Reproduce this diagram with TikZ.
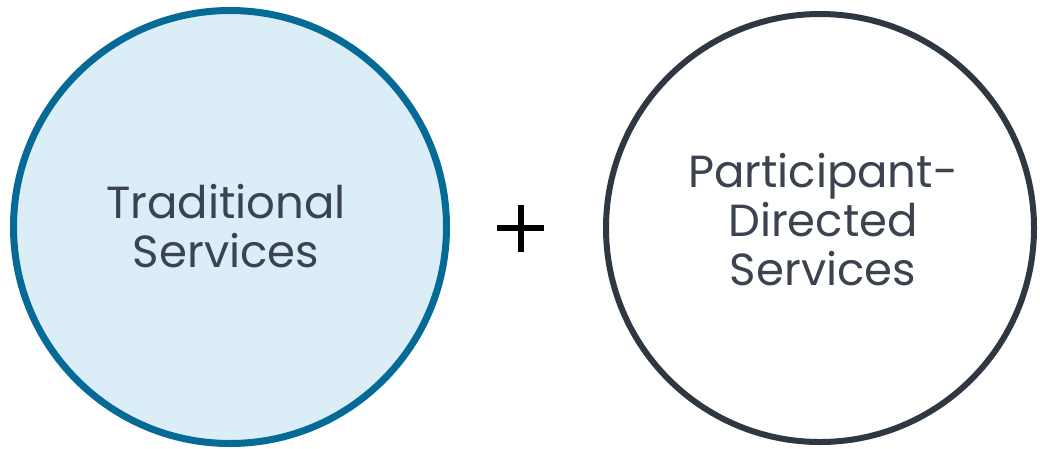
\documentclass[tikz,border=0pt]{standalone}
\usepackage{fontspec}
\setmainfont{Poppins}
\usepackage{tikz}
\definecolor{ringblue}{HTML}{066A96}
\definecolor{fillblue}{HTML}{DBEEF8}
\definecolor{ringgray}{HTML}{2F3742}
\definecolor{textgray}{HTML}{3B4250}
\tikzset{
  ringtext/.style={align=center,text=textgray,font=\fontsize{45}{49}\selectfont},
}
\begin{document}
\begin{tikzpicture}[x=1pt,y=-1pt]
\useasboundingbox(0,0)rectangle(1040,448);
\draw[ringblue,fill=fillblue,line width=7pt](230,227)circle(216.5); %left ring
\draw[ringgray,line width=6pt](820,228)circle(214); %right ring
\fill[black](497,225)rectangle(544,231); %plus
\fill[black](517.5,205)rectangle(523.5,252);
%labels
\node[ringtext](trad)at(226,226){Traditional\\Services};
\node[ringtext](part)at(823,220){Participant-\\Directed\\Services};
\end{tikzpicture}
\end{document}
